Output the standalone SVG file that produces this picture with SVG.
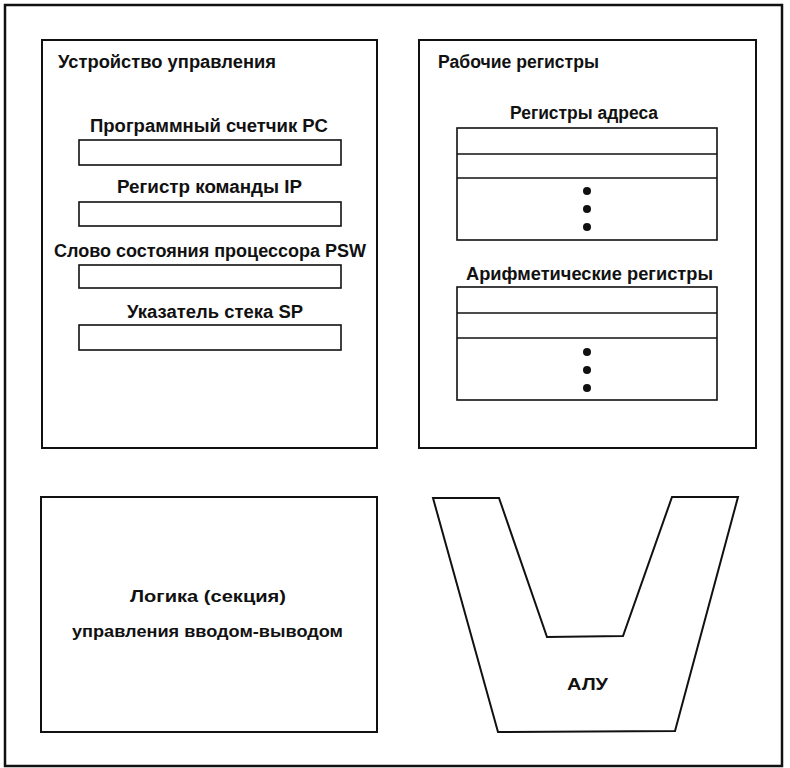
<svg xmlns="http://www.w3.org/2000/svg" width="790" height="768" viewBox="0 0 790 768">
<style>
.frame{fill:none;stroke:#111;stroke-width:2.5}
.box{fill:none;stroke:#111;stroke-width:2}
.reg{fill:#fff;stroke:#111;stroke-width:1.6}
.t{font-family:"Liberation Sans",Arial,sans-serif;font-size:18px;fill:#111;font-weight:bold}
.s{font-size:17px}
.u{font-size:16px}
.dot{fill:#111}
</style>
<rect width="790" height="768" fill="#fff"/>
<rect class="frame" x="5" y="5" width="777" height="761"/>

<g id="control-unit">
<rect class="box" x="42" y="40" width="335" height="408"/>
<text class="t" x="58" y="68" textLength="218" lengthAdjust="spacingAndGlyphs">Устройство управления</text>
<text class="t" x="90" y="132" textLength="238" lengthAdjust="spacingAndGlyphs">Программный счетчик PC</text>
<rect class="reg" x="79" y="140" width="262" height="25"/>
<text class="t" x="117" y="193" textLength="185" lengthAdjust="spacingAndGlyphs">Регистр команды IP</text>
<rect class="reg" x="79" y="202" width="262" height="24"/>
<text class="t" x="54" y="257" textLength="312" lengthAdjust="spacingAndGlyphs">Слово состояния процессора PSW</text>
<rect class="reg" x="79" y="265" width="262" height="23"/>
<text class="t" x="127" y="318" textLength="176" lengthAdjust="spacingAndGlyphs">Указатель стека SP</text>
<rect class="reg" x="79" y="325" width="262" height="25"/>
</g>

<g id="working-registers">
<rect class="box" x="419" y="40" width="337" height="408"/>
<text class="t" x="438" y="68" textLength="161" lengthAdjust="spacingAndGlyphs">Рабочие регистры</text>
<g id="address-registers">
<text class="t" x="510" y="119" textLength="148" lengthAdjust="spacingAndGlyphs">Регистры адреса</text>
<rect class="reg" x="457" y="128" width="260" height="112"/>
<line class="reg" x1="457" y1="154" x2="717" y2="154"/>
<line class="reg" x1="457" y1="178" x2="717" y2="178"/>
<circle class="dot" cx="587" cy="191" r="4"/>
<circle class="dot" cx="587" cy="209" r="4"/>
<circle class="dot" cx="587" cy="227" r="4"/>
</g>
<g id="arithmetic-registers">
<text class="t" x="466" y="280" textLength="247" lengthAdjust="spacingAndGlyphs">Арифметические регистры</text>
<rect class="reg" x="457" y="287" width="260" height="113"/>
<line class="reg" x1="457" y1="313" x2="717" y2="313"/>
<line class="reg" x1="457" y1="338" x2="717" y2="338"/>
<circle class="dot" cx="587" cy="352" r="4"/>
<circle class="dot" cx="587" cy="370" r="4"/>
<circle class="dot" cx="587" cy="388" r="4"/>
</g>
</g>

<g id="io-logic">
<rect class="box" x="41" y="497" width="336" height="235"/>
<text class="t s" x="130" y="602" textLength="156" lengthAdjust="spacingAndGlyphs">Логика (секция)</text>
<text class="t s" x="72" y="637" textLength="271" lengthAdjust="spacingAndGlyphs">управления вводом-выводом</text>
</g>

<g id="alu">
<polygon class="box" points="433,498 499,498 547,637 623,636 672,497 738,497 675,731 498,732"/>
<text class="t u" x="567" y="690" textLength="41" lengthAdjust="spacingAndGlyphs">АЛУ</text>
</g>

<g id="connectors"></g>
</svg>
